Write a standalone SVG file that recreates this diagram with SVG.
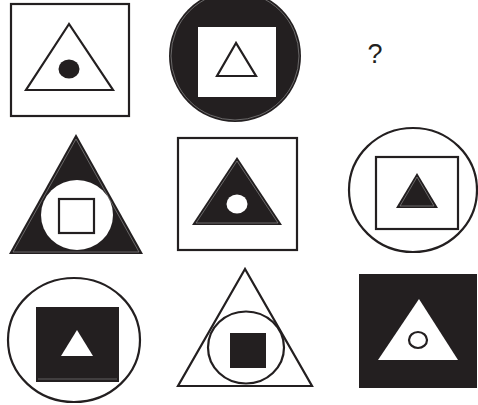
<svg xmlns="http://www.w3.org/2000/svg" width="478" height="405" viewBox="0 0 478 405">
<style>
.o{fill:none;stroke:#231f20;stroke-width:2.2}
.w{fill:#fff;stroke:#231f20;stroke-width:2.2}
.b{fill:#231f20;stroke:none}
.wf{fill:#fff;stroke:none}
.hl{fill:none;stroke:#9a9a9a;stroke-width:0.6}
.q{font-family:"Liberation Sans",Arial,sans-serif;font-size:27px;fill:#231f20}
</style>
<rect width="478" height="405" fill="#fff"/>
<g id="cell-1-1">
<rect class="o" x="11" y="4" width="118" height="112"/>
<polygon class="o" points="69,24 26,90 113,90"/>
<ellipse class="b" cx="69" cy="69" rx="10.5" ry="9.5"/>
</g>
<g id="cell-1-2">
<circle class="b" cx="235" cy="56" r="66"/>
<circle class="hl" cx="235" cy="56" r="64"/>
<rect class="wf" x="198" y="27" width="78" height="70"/>
<polygon class="o" points="236,43 217,76 256,76"/>
</g>
<g id="cell-1-3">
<text class="q" x="375" y="63" text-anchor="middle">?</text>
</g>
<g id="cell-2-1">
<polygon class="b" points="76,134 9,254 143,254"/>
<polygon class="hl" points="76,139 13,252 139,252"/>
<ellipse class="wf" cx="77" cy="215" rx="36" ry="35"/>
<rect class="o" x="59" y="199" width="35" height="34"/>
</g>
<g id="cell-2-2">
<rect class="o" x="178" y="138" width="119" height="112"/>
<polygon class="b" points="237,157 192,225 282,225"/>
<polygon class="hl" points="237,161 196,223 278,223"/>
<ellipse class="wf" cx="237" cy="204" rx="10.5" ry="9.5"/>
</g>
<g id="cell-2-3">
<ellipse class="o" cx="413" cy="190" rx="64" ry="62"/>
<rect class="o" x="376" y="157" width="82" height="72"/>
<polygon class="b" points="417,173 396,208 438,208"/>
<polygon class="hl" points="417,177 400,206 434,206"/>
</g>
<g id="cell-3-1">
<ellipse class="o" cx="74" cy="340" rx="66" ry="62"/>
<rect class="b" x="36" y="307" width="83" height="75"/>
<line x1="38" y1="379" x2="117" y2="379" stroke="#8a8a8a" stroke-width="0.6"/>
<polygon class="wf" points="77,330 61,356 93,356"/>
</g>
<g id="cell-3-2">
<polygon class="o" points="245,269 178,386 312,386"/>
<ellipse class="o" cx="246" cy="347.5" rx="38" ry="36"/>
<rect class="b" x="230" y="333" width="36" height="35"/>
</g>
<g id="cell-3-3">
<rect class="b" x="359" y="274" width="118" height="114"/>
<polygon class="wf" points="419,299 378,360 458,360"/>
<ellipse class="o" cx="418" cy="340" rx="9" ry="8"/>
</g>
</svg>
